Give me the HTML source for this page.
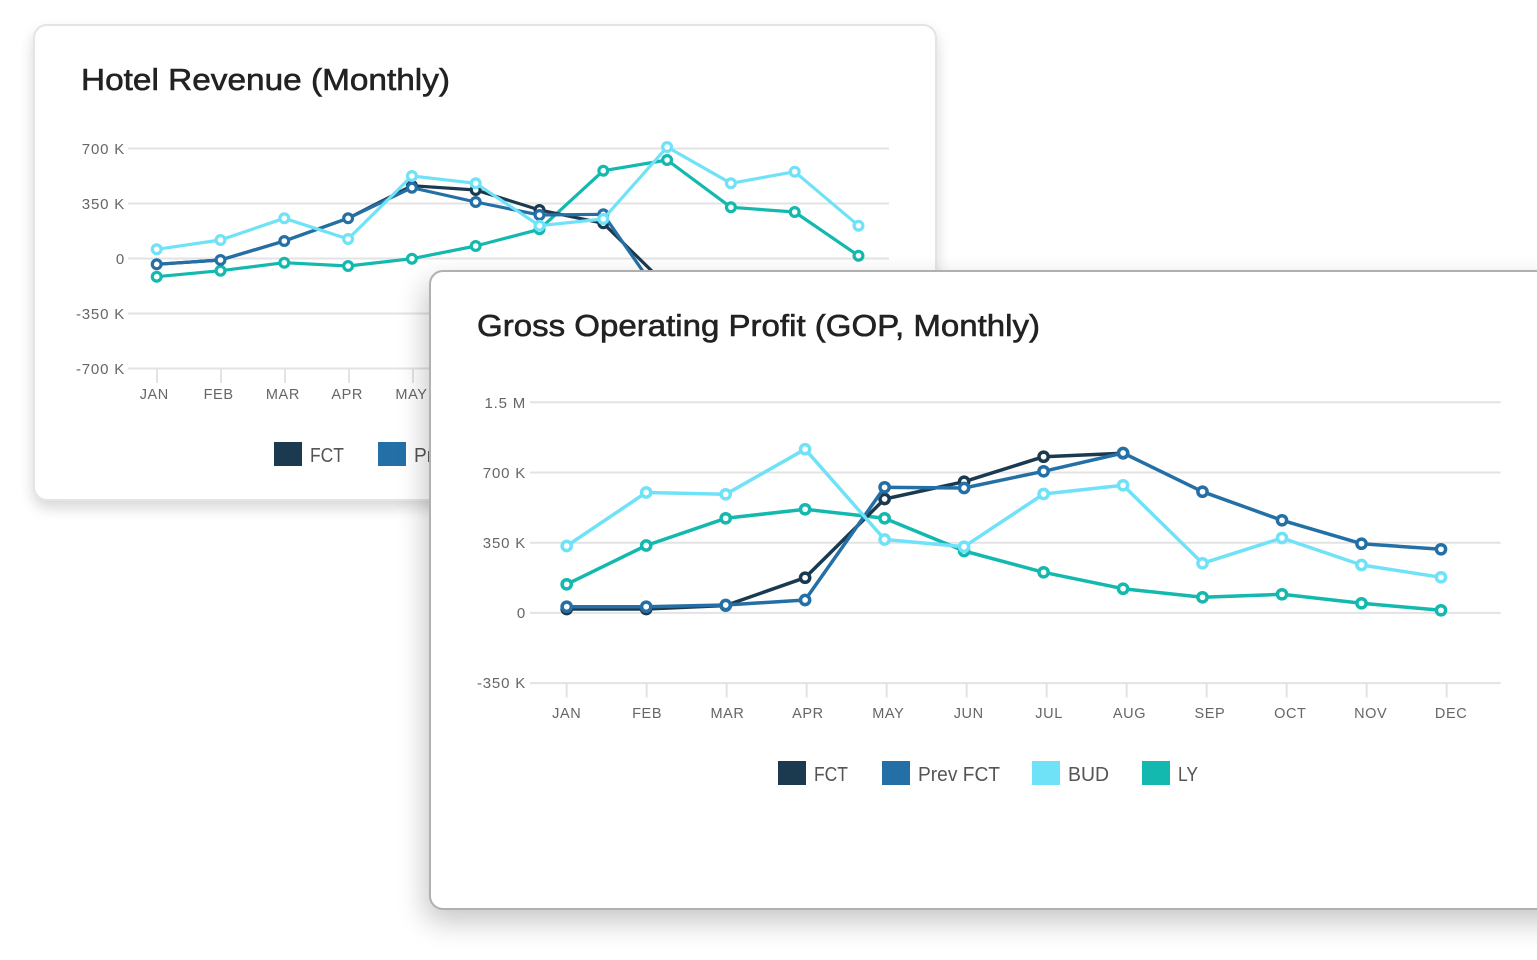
<!DOCTYPE html>
<html><head><meta charset="utf-8">
<style>
html,body{margin:0;padding:0;background:#fff;}
body{width:1537px;height:960px;overflow:hidden;position:relative;font-family:"Liberation Sans",sans-serif;}
.card{position:absolute;background:#fff;overflow:hidden;box-sizing:border-box;}
#c1{left:33px;top:24px;width:904px;height:477px;border:2px solid #e4e4e4;border-radius:14px;box-shadow:0 7px 14px rgba(0,0,0,0.16);z-index:1;}
#c2{left:429px;top:270px;width:1160px;height:640px;border:2px solid #b0b0b0;border-radius:14px;box-shadow:-4px 12px 28px rgba(0,0,0,0.22);z-index:2;}
svg{position:absolute;}
#s1{left:-35px;top:-26px;}
#s2{left:-431px;top:-272px;}
.ax{font-family:"Liberation Sans",sans-serif;font-size:15px;fill:#666;letter-spacing:0.8px;}
.xl{font-family:"Liberation Sans",sans-serif;font-size:14.5px;fill:#666;letter-spacing:0.6px;}
.lg{font-family:"Liberation Sans",sans-serif;font-size:20px;fill:#555;}
.tt{font-family:"Liberation Sans",sans-serif;font-size:31px;fill:#222;stroke:#222;stroke-width:0.6px;}
</style></head><body>

<div class="card" id="c1">
<svg id="s1" width="1537" height="960" viewBox="0 0 1537 960">
<text class="tt" x="81" y="90" textLength="369" lengthAdjust="spacingAndGlyphs">Hotel Revenue (Monthly)</text>
<g stroke="#e3e3e3" stroke-width="2">
<line x1="128" y1="148.5" x2="889" y2="148.5"/>
<line x1="128" y1="203.5" x2="889" y2="203.5"/>
<line x1="128" y1="258.5" x2="889" y2="258.5"/>
<line x1="128" y1="313.5" x2="889" y2="313.5"/>
<line x1="128" y1="368.5" x2="889" y2="368.5"/>
<line x1="157" y1="369" x2="157" y2="383"/>
<line x1="221" y1="369" x2="221" y2="383"/>
<line x1="285" y1="369" x2="285" y2="383"/>
<line x1="349" y1="369" x2="349" y2="383"/>
<line x1="413" y1="369" x2="413" y2="383"/>
<line x1="477" y1="369" x2="477" y2="383"/>
<line x1="541" y1="369" x2="541" y2="383"/>
<line x1="605" y1="369" x2="605" y2="383"/>
<line x1="669" y1="369" x2="669" y2="383"/>
<line x1="733" y1="369" x2="733" y2="383"/>
<line x1="797" y1="369" x2="797" y2="383"/>
<line x1="861" y1="369" x2="861" y2="383"/>
</g>
<g class="ax" text-anchor="end">
<text x="125" y="154">700 K</text>
<text x="125" y="209">350 K</text>
<text x="125" y="264">0</text>
<text x="125" y="319">-350 K</text>
<text x="125" y="374">-700 K</text>
</g>
<g class="xl" text-anchor="middle">
<text x="154.3" y="399">JAN</text>
<text x="218.6" y="399">FEB</text>
<text x="282.9" y="399">MAR</text>
<text x="347.2" y="399">APR</text>
<text x="411.5" y="399">MAY</text>
<text x="475.8" y="399">JUN</text>
<text x="540.1" y="399">JUL</text>
<text x="604.4" y="399">AUG</text>
<text x="668.7" y="399">SEP</text>
<text x="733" y="399">OCT</text>
<text x="797.3" y="399">NOV</text>
<text x="861.6" y="399">DEC</text>
</g>
<!-- LY -->
<g stroke="#13b8ae" stroke-width="3.2" fill="#fff">
<polyline fill="none" stroke-linejoin="round" points="156.7,276.7 220.5,270.7 284.3,262.7 348.1,266 411.9,258.7 475.7,246 539.5,229.3 603.3,170.7 667.1,160 730.9,207.3 794.7,212 858.5,255.7"/>
<circle cx="156.7" cy="276.7" r="4.4"/><circle cx="220.5" cy="270.7" r="4.4"/><circle cx="284.3" cy="262.7" r="4.4"/><circle cx="348.1" cy="266" r="4.4"/><circle cx="411.9" cy="258.7" r="4.4"/><circle cx="475.7" cy="246" r="4.4"/><circle cx="539.5" cy="229.3" r="4.4"/><circle cx="603.3" cy="170.7" r="4.4"/><circle cx="667.1" cy="160" r="4.4"/><circle cx="730.9" cy="207.3" r="4.4"/><circle cx="794.7" cy="212" r="4.4"/><circle cx="858.5" cy="255.7" r="4.4"/>
</g>
<!-- FCT -->
<g stroke="#1b3a4f" stroke-width="3.2" fill="#fff">
<polyline fill="none" stroke-linejoin="round" points="156.7,264.3 220.5,260 284.3,241 348.1,218.3 411.9,185.7 475.7,190 539.5,210 603.3,223.3 667.1,286 730.9,330"/>
<circle cx="411.9" cy="185.7" r="4.4"/><circle cx="475.7" cy="190" r="4.4"/><circle cx="539.5" cy="210" r="4.4"/><circle cx="603.3" cy="223.3" r="4.4"/>
</g>
<!-- Prev FCT -->
<g stroke="#2470a6" stroke-width="3.2" fill="#fff">
<polyline fill="none" stroke-linejoin="round" points="156.7,264.3 220.5,260 284.3,241 348.1,218.3 411.9,187.7 475.7,202 539.5,215 603.3,214.3 667.1,306 730.9,340"/>
<circle cx="156.7" cy="264.3" r="4.4"/><circle cx="220.5" cy="260" r="4.4"/><circle cx="284.3" cy="241" r="4.4"/><circle cx="348.1" cy="218.3" r="4.4"/><circle cx="411.9" cy="187.7" r="4.4"/><circle cx="475.7" cy="202" r="4.4"/><circle cx="539.5" cy="215" r="4.4"/><circle cx="603.3" cy="214.3" r="4.4"/>
</g>
<!-- BUD -->
<g stroke="#6fe2f7" stroke-width="3.2" fill="#fff">
<polyline fill="none" stroke-linejoin="round" points="156.7,249.3 220.5,240 284.3,218.3 348.1,239 411.9,176 475.7,183.3 539.5,225.7 603.3,219 667.1,147 730.9,183.3 794.7,171.7 858.5,225.7"/>
<circle cx="156.7" cy="249.3" r="4.4"/><circle cx="220.5" cy="240" r="4.4"/><circle cx="284.3" cy="218.3" r="4.4"/><circle cx="348.1" cy="239" r="4.4"/><circle cx="411.9" cy="176" r="4.4"/><circle cx="475.7" cy="183.3" r="4.4"/><circle cx="539.5" cy="225.7" r="4.4"/><circle cx="603.3" cy="219" r="4.4"/><circle cx="667.1" cy="147" r="4.4"/><circle cx="730.9" cy="183.3" r="4.4"/><circle cx="794.7" cy="171.7" r="4.4"/><circle cx="858.5" cy="225.7" r="4.4"/>
</g>
<rect x="274" y="442" width="28" height="24" fill="#1b3a4f"/>
<text class="lg" x="310" y="462" textLength="34" lengthAdjust="spacingAndGlyphs">FCT</text>
<rect x="378" y="442" width="28" height="24" fill="#2470a6"/>
<text class="lg" x="414" y="462" textLength="82" lengthAdjust="spacingAndGlyphs">Prev FCT</text>
<rect x="528" y="442" width="28" height="24" fill="#6fe2f7"/>
<text class="lg" x="564" y="462">BUD</text>
<rect x="638" y="442" width="28" height="24" fill="#13b8ae"/>
<text class="lg" x="674" y="462">LY</text>
</svg>
</div>

<div class="card" id="c2">
<svg id="s2" width="1537" height="960" viewBox="0 0 1537 960">
<text class="tt" x="477" y="336" textLength="563" lengthAdjust="spacingAndGlyphs">Gross Operating Profit (GOP, Monthly)</text>
<g stroke="#e3e3e3" stroke-width="2">
<line x1="530" y1="402.3" x2="1500.7" y2="402.3"/>
<line x1="530" y1="472.5" x2="1500.7" y2="472.5"/>
<line x1="530" y1="542.7" x2="1500.7" y2="542.7"/>
<line x1="530" y1="612.9" x2="1500.7" y2="612.9"/>
<line x1="530" y1="683.1" x2="1500.7" y2="683.1"/>
<line x1="566.7" y1="683" x2="566.7" y2="697.5"/>
<line x1="646.7" y1="683" x2="646.7" y2="697.5"/>
<line x1="726.7" y1="683" x2="726.7" y2="697.5"/>
<line x1="806.7" y1="683" x2="806.7" y2="697.5"/>
<line x1="886.7" y1="683" x2="886.7" y2="697.5"/>
<line x1="966.7" y1="683" x2="966.7" y2="697.5"/>
<line x1="1046.7" y1="683" x2="1046.7" y2="697.5"/>
<line x1="1126.7" y1="683" x2="1126.7" y2="697.5"/>
<line x1="1206.7" y1="683" x2="1206.7" y2="697.5"/>
<line x1="1286.7" y1="683" x2="1286.7" y2="697.5"/>
<line x1="1366.7" y1="683" x2="1366.7" y2="697.5"/>
<line x1="1446.7" y1="683" x2="1446.7" y2="697.5"/>
</g>
<g class="ax" text-anchor="end">
<text x="526" y="408">1.5 M</text>
<text x="526" y="478">700 K</text>
<text x="526" y="548">350 K</text>
<text x="526" y="618">0</text>
<text x="526" y="688">-350 K</text>
</g>
<g class="xl" text-anchor="middle">
<text x="566.7" y="718">JAN</text>
<text x="647.1" y="718">FEB</text>
<text x="727.5" y="718">MAR</text>
<text x="807.9" y="718">APR</text>
<text x="888.3" y="718">MAY</text>
<text x="968.7" y="718">JUN</text>
<text x="1049.1" y="718">JUL</text>
<text x="1129.5" y="718">AUG</text>
<text x="1209.9" y="718">SEP</text>
<text x="1290.3" y="718">OCT</text>
<text x="1370.7" y="718">NOV</text>
<text x="1451.1" y="718">DEC</text>
</g>
<!-- LY -->
<g stroke="#13b8ae" stroke-width="3.5" fill="#fff">
<polyline fill="none" stroke-linejoin="round" points="566.7,584.3 646.2,545.5 725.7,518.3 805.1,509.3 884.6,518.3 964.1,551 1043.6,572.3 1123.1,588.7 1202.5,597.3 1282,594.3 1361.5,603.3 1441,610.3"/>
<circle cx="566.7" cy="584.3" r="4.6"/><circle cx="646.2" cy="545.5" r="4.6"/><circle cx="725.7" cy="518.3" r="4.6"/><circle cx="805.1" cy="509.3" r="4.6"/><circle cx="884.6" cy="518.3" r="4.6"/><circle cx="964.1" cy="551" r="4.6"/><circle cx="1043.6" cy="572.3" r="4.6"/><circle cx="1123.1" cy="588.7" r="4.6"/><circle cx="1202.5" cy="597.3" r="4.6"/><circle cx="1282" cy="594.3" r="4.6"/><circle cx="1361.5" cy="603.3" r="4.6"/><circle cx="1441" cy="610.3" r="4.6"/>
</g>
<!-- FCT -->
<g stroke="#1b3a4f" stroke-width="3.5" fill="#fff">
<polyline fill="none" stroke-linejoin="round" points="566.7,609 646.2,609 725.7,605.5 805.1,577.7 884.6,499 964.1,481.7 1043.6,456.7 1123.1,453.3"/>
<circle cx="566.7" cy="609" r="4.6"/><circle cx="646.2" cy="609" r="4.6"/><circle cx="725.7" cy="605.5" r="4.6"/><circle cx="805.1" cy="577.7" r="4.6"/><circle cx="884.6" cy="499" r="4.6"/><circle cx="964.1" cy="481.7" r="4.6"/><circle cx="1043.6" cy="456.7" r="4.6"/><circle cx="1123.1" cy="453.3" r="4.6"/>
</g>
<!-- Prev FCT -->
<g stroke="#2470a6" stroke-width="3.5" fill="#fff">
<polyline fill="none" stroke-linejoin="round" points="566.7,606.7 646.2,606.7 725.7,605 805.1,600 884.6,487.3 964.1,488 1043.6,471.3 1123.1,453 1202.5,491.7 1282,520.3 1361.5,543.7 1441,549.3"/>
<circle cx="566.7" cy="606.7" r="4.6"/><circle cx="646.2" cy="606.7" r="4.6"/><circle cx="725.7" cy="605" r="4.6"/><circle cx="805.1" cy="600" r="4.6"/><circle cx="884.6" cy="487.3" r="4.6"/><circle cx="964.1" cy="488" r="4.6"/><circle cx="1043.6" cy="471.3" r="4.6"/><circle cx="1123.1" cy="453" r="4.6"/><circle cx="1202.5" cy="491.7" r="4.6"/><circle cx="1282" cy="520.3" r="4.6"/><circle cx="1361.5" cy="543.7" r="4.6"/><circle cx="1441" cy="549.3" r="4.6"/>
</g>
<!-- BUD -->
<g stroke="#6fe2f7" stroke-width="3.5" fill="#fff">
<polyline fill="none" stroke-linejoin="round" points="566.7,546 646.2,492.5 725.7,494.3 805.1,449.2 884.6,539.5 964.1,546.7 1043.6,494 1123.1,485.3 1202.5,563.3 1282,538 1361.5,565 1441,577.3"/>
<circle cx="566.7" cy="546" r="4.6"/><circle cx="646.2" cy="492.5" r="4.6"/><circle cx="725.7" cy="494.3" r="4.6"/><circle cx="805.1" cy="449.2" r="4.6"/><circle cx="884.6" cy="539.5" r="4.6"/><circle cx="964.1" cy="546.7" r="4.6"/><circle cx="1043.6" cy="494" r="4.6"/><circle cx="1123.1" cy="485.3" r="4.6"/><circle cx="1202.5" cy="563.3" r="4.6"/><circle cx="1282" cy="538" r="4.6"/><circle cx="1361.5" cy="565" r="4.6"/><circle cx="1441" cy="577.3" r="4.6"/>
</g>
<rect x="778" y="761" width="28" height="24" fill="#1b3a4f"/>
<text class="lg" x="814" y="781" textLength="34" lengthAdjust="spacingAndGlyphs">FCT</text>
<rect x="882" y="761" width="28" height="24" fill="#2470a6"/>
<text class="lg" x="918" y="781" textLength="82" lengthAdjust="spacingAndGlyphs">Prev FCT</text>
<rect x="1032" y="761" width="28" height="24" fill="#6fe2f7"/>
<text class="lg" x="1068" y="781" textLength="41" lengthAdjust="spacingAndGlyphs">BUD</text>
<rect x="1142" y="761" width="28" height="24" fill="#13b8ae"/>
<text class="lg" x="1178" y="781" textLength="20" lengthAdjust="spacingAndGlyphs">LY</text>
</svg>
</div>

</body></html>
